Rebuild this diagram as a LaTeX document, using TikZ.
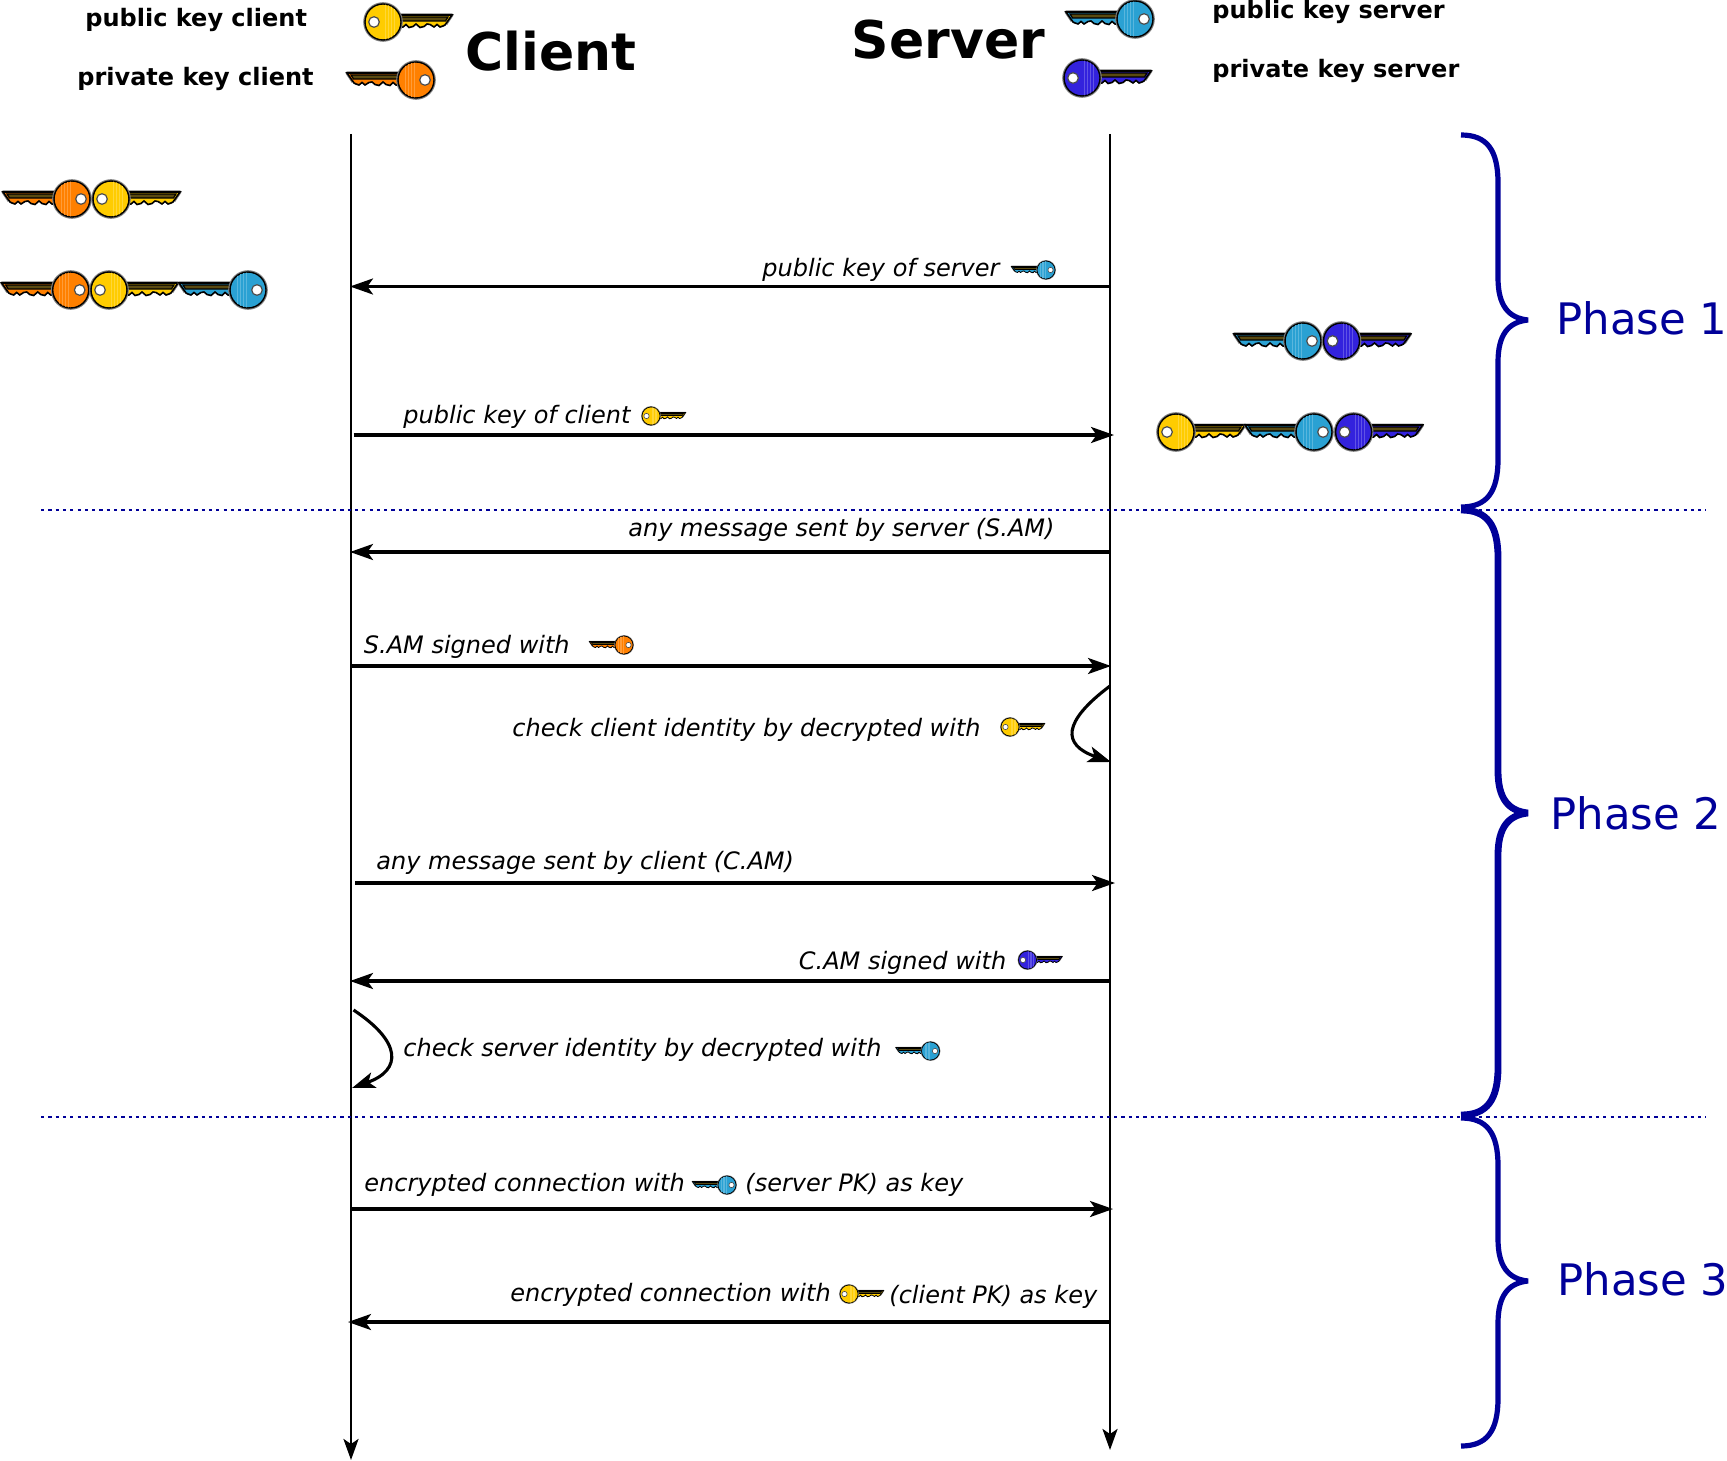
\documentclass[tikz,border=0pt]{standalone}
\usepackage{fontspec}
\setmainfont{DejaVu Sans}
\usetikzlibrary{arrows.meta}
\definecolor{kyellow}{HTML}{FFCC00}
\definecolor{korange}{HTML}{FF8000}
\definecolor{klight}{HTML}{2AA1D3}
\definecolor{kdark}{HTML}{3322DD}
\definecolor{kblue}{HTML}{000099}
\definecolor{kstripe}{HTML}{5A4A10}
\newcommand\keyicon[5]{%
\begin{scope}[shift={(#1,#2)},xscale=#3,yscale=#4]
  \draw[draw=gray,line width=#4*1.5pt,line join=round]
    (14,-7)--(69,-7)--(63,2);
  \fill[draw=black,line width=#4*0.8pt,fill=#5]
    (14,-7)--(69,-7)--(62,3)--(60,4)--(57,5)--(54,2.5)--(51,5)--(47,2.5)--(44,2)--(41,4.5)--(37,5.5)--(33,2)--(30,4.5)--(26,5.5)--(23,2.5)--(20,5)--(16,5)--cycle;
  \fill[draw=black,line width=#4*0.6pt,fill=kstripe]
    (17,-5)--(65,-5)--(62.5,-1)--(17,-1)--cycle;
  \draw[draw=gray,line width=#4*1.2pt] (0,0) circle[radius=18.6];
  \draw[draw=black,line width=#4*0.7pt,fill=#5] (0,0) circle[radius=18];
  \begin{scope}
    \clip (0,0) circle[radius=17.5];
    \draw[white!22!#5,line width=#4*0.45pt] (2,-19)--(2,19) (5,-19)--(5,19) (8,-19)--(8,19) (11,-19)--(11,19);
  \end{scope}
  \draw[draw=black!70,line width=#4*0.6pt,fill=white] (-9,0) circle[radius=5.3];
\end{scope}}
\newcommand\phasebrace[4]{%
  \draw[kblue,line width=#4,line join=bevel]
    (1461,#1) .. controls (1487,#1) and (1498,#1+15) .. (1498,#1+48)
    -- (1498,#2-42) .. controls (1498,#2-15) and (1508,#2-2) .. (1528,#2)
    .. controls (1508,#2+2) and (1498,#2+15) .. (1498,#2+42)
    -- (1498,#3-48) .. controls (1498,#3-15) and (1487,#3) .. (1461,#3);}
\tikzset{
  life/.style={draw=black,line width=1.4pt,-{Stealth[length=10.5pt,width=7.5pt,inset=2.5pt]}},
  msg/.style={draw=black,line width=1.55pt,-{Stealth[length=11.5pt,width=8pt,inset=2.8pt]}},
  sep/.style={draw=kblue,line width=0.9pt,dash pattern=on 1.6pt off 2.05pt},
  lab/.style={anchor=base west,inner sep=0pt,font=\fontsize{12}{14}\selectfont\itshape},
  leg/.style={anchor=base west,inner sep=0pt,font=\fontsize{12}{14}\selectfont\bfseries},
  ttl/.style={anchor=base west,inner sep=0pt,font=\fontsize{26}{30}\selectfont\bfseries},
  ph/.style={anchor=base west,inner sep=0pt,text=kblue,font=\fontsize{21.7}{26}\selectfont},
}
\begin{document}
\begin{tikzpicture}[x=0.5pt,y=-0.5pt]
\useasboundingbox (0,0) rectangle (1727,1460);
% lifelines
\coordinate (ctop) at (351,134); \coordinate (cbot) at (351,1460);
\coordinate (stop) at (1110,134); \coordinate (sbot) at (1110,1450);
\draw[life] (ctop) -- (cbot);
\draw[life] (stop) -- (sbot);
% separators
\coordinate (d1a) at (41,510); \coordinate (d1b) at (1705.5,510);
\coordinate (d2a) at (41,1117); \coordinate (d2b) at (1705.5,1117);
\draw[sep] (d1a) -- (d1b);
\draw[sep] (d2a) -- (d2b);
% braces
\phasebrace{135}{320}{507}{2.6pt}
\phasebrace{510}{813}{1115}{3.4pt}
\phasebrace{1118}{1281}{1446}{2.6pt}
% messages
\coordinate (s1) at (1110,286.5); \coordinate (c1) at (350,286.5);
\coordinate (c2) at (353.5,435); \coordinate (s2) at (1114,435);
\coordinate (s3) at (1110,552); \coordinate (c3) at (350,552);
\coordinate (c4) at (351,666); \coordinate (s4) at (1111,666);
\coordinate (c5) at (355,883); \coordinate (s5) at (1115,883);
\coordinate (s6) at (1110,981); \coordinate (c6) at (350,981);
\coordinate (c7) at (352,1209); \coordinate (s7) at (1113,1209);
\coordinate (s8) at (1110,1322); \coordinate (c8) at (348,1322);
\draw[msg] (s1) -- (c1);
\draw[msg] (c2) -- (s2);
\draw[msg] (s3) -- (c3);
\draw[msg] (c4) -- (s4);
\draw[msg] (c5) -- (s5);
\draw[msg] (s6) -- (c6);
\draw[msg] (c7) -- (s7);
\draw[msg] (s8) -- (c8);
\coordinate (la) at (1110,686); \coordinate (lb) at (1111,762);
\draw[msg] (la) .. controls (1062,722) and (1062,745) .. (lb);
\coordinate (lc) at (353.5,1010); \coordinate (ld) at (352,1088);
\draw[msg] (lc) .. controls (402,1042) and (402,1070) .. (ld);
% texts
\node[leg] (t1) at (85,26.5) {public key client};
\node[leg] (t2) at (77,85.5) {private key client};
\node[leg] (t3) at (1212,19) {public key server};
\node[leg] (t4) at (1212,77.5) {private key server};
\node[ttl] (t5) at (465,71) {Client};
\node[ttl] (t6) at (851.5,59) {Server};
\node[ph] (p1) at (1556,335) {Phase 1};
\node[ph] (p2) at (1550,829) {Phase 2};
\node[ph] (p3) at (1557,1295) {Phase 3};
\node[lab] (m1) at (762,276.5) {public key of server};
\node[lab] (m2) at (403,423.5) {public key of client};
\node[lab] (m3) at (628,536.5) {any message sent by server (S.AM)};
\node[lab] (m4) at (363.5,653.5) {S.AM signed with};
\node[lab] (m5) at (512,736) {check client identity by decrypted with};
\node[lab] (m6) at (376,869.5) {any message sent by client (C.AM)};
\node[lab] (m7) at (798.5,969) {C.AM signed with};
\node[lab] (m8) at (403,1056) {check server identity by decrypted with};
\node[lab] (m9) at (364,1191.5) {encrypted connection with};
\node[lab] (m10) at (745,1191.5) {(server PK) as key};
\node[lab] (m11) at (510,1301.5) {encrypted connection with};
\node[lab] (m12) at (889,1303.5) {(client PK) as key};
% keys
\keyicon{383}{22}{1}{1}{kyellow}
\keyicon{416}{80}{-1}{1}{korange}
\keyicon{1135}{19}{-1}{1}{klight}
\keyicon{1082}{78}{1}{1}{kdark}
\keyicon{72}{199}{-1}{1}{korange}
\keyicon{111}{199}{1}{1}{kyellow}
\keyicon{70.7}{290}{-1}{1}{korange}
\keyicon{109}{290}{1}{1}{kyellow}
\keyicon{248}{290}{-1}{1}{klight}
\keyicon{1303}{341}{-1}{1}{klight}
\keyicon{1341.5}{341}{1}{1}{kdark}
\keyicon{1176}{432}{1}{1}{kyellow}
\keyicon{1314}{432}{-1}{1}{klight}
\keyicon{1353.6}{432}{1}{1}{kdark}
\keyicon{1046}{270}{-.5}{.5}{klight}
\keyicon{651}{416}{.5}{.5}{kyellow}
\keyicon{624}{645}{-.5}{.5}{korange}
\keyicon{1010}{727}{.5}{.5}{kyellow}
\keyicon{1027.5}{960}{.5}{.5}{kdark}
\keyicon{930.5}{1051}{-.5}{.5}{klight}
\keyicon{727}{1185}{-.5}{.5}{klight}
\keyicon{849}{1294}{.5}{.5}{kyellow}
\end{tikzpicture}
\end{document}
